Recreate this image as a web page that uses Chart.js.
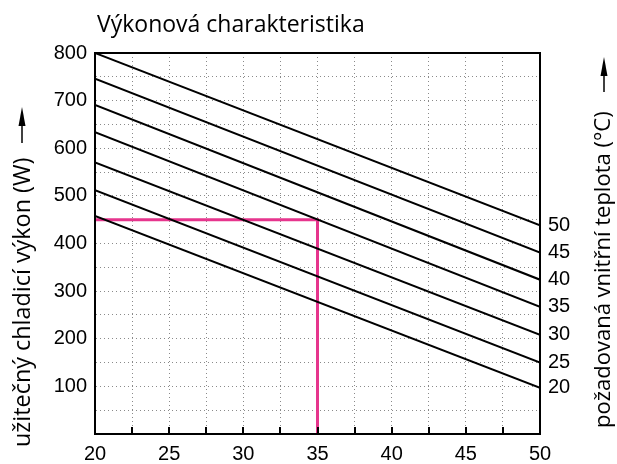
<!DOCTYPE html>
<html lang="cs">
<head>
<meta charset="UTF-8">
<title>Výkonová charakteristika</title>
<style>
    body { margin: 0; padding: 0; background: #fff; }
    .chart-container { position: relative; width: 617px; height: 464px; }
</style>
</head>
<body>
<div class="chart-container">
    <canvas id="vykonChart"></canvas>
</div>
<script src="https://cdn.jsdelivr.net/npm/chart.js"></script>
<script>
// venkovni teplota (x) - start a konec kazde primky
const outdoorTemps = [20, 50];
// pozadovana vnitrni teplota pro kazdou primku
const setpoints = [50, 45, 40, 35, 30, 25, 20];
// chladici vykon pri venkovni teplote 20 a 50 °C
const powerAt20 = [800, 746, 691, 634, 570, 512, 458];
const powerAt50 = [438, 381, 324, 267, 208, 150, 97];
// ruzova odectova cara
const markerX = [20, 35, 35];
const markerY = [450, 450, 0];

const xTicks = [20, 25, 30, 35, 40, 45, 50];
const yTicks = [100, 200, 300, 400, 500, 600, 700, 800];

const tickFont = { family: "'Liberation Sans', Arial, sans-serif", size: 20 };
const titleFamily = "'Open Sans', sans-serif";

const datasets = setpoints.map((t, i) => ({
    label: t + " °C",
    data: outdoorTemps.map((x, j) => ({ x: x, y: j === 0 ? powerAt20[i] : powerAt50[i] })),
    borderColor: "#000",
    borderWidth: 2,
    pointRadius: 0,
    tension: 0
}));

datasets.push({
    label: "odečet",
    data: markerX.map((x, i) => ({ x: x, y: markerY[i] })),
    borderColor: "#e6358d",
    borderWidth: 3,
    pointRadius: 0,
    tension: 0
});

// text rotated to read bottom-up, sized so it spans `len` pixels
function verticalText(ctx, text, x, yBottom, len) {
    ctx.save();
    ctx.font = "100px " + titleFamily;
    const size = 100 * len / ctx.measureText(text).width;
    ctx.font = size.toFixed(1) + "px " + titleFamily;
    ctx.translate(x, yBottom);
    ctx.rotate(-Math.PI / 2);
    ctx.fillText(text, 0, 0);
    ctx.restore();
}

function drawArrow(ctx, x, yFrom, yTip) {
    ctx.save();
    ctx.strokeStyle = "#000";
    ctx.lineWidth = 1.5;
    ctx.beginPath();
    ctx.moveTo(x, yFrom);
    ctx.lineTo(x, yTip + 15);
    ctx.stroke();
    ctx.beginPath();
    ctx.moveTo(x, yTip);
    ctx.lineTo(x - 3.5, yTip + 19);
    ctx.lineTo(x + 3.5, yTip + 19);
    ctx.closePath();
    ctx.fill();
    ctx.restore();
}

// ramecek, vnitrni tick znacky, titulky a sipky
const decorations = {
    id: "decorations",
    afterDatasetsDraw(chart) {
        const { ctx, chartArea: a, scales } = chart;
        ctx.save();
        ctx.strokeStyle = "#000";
        ctx.lineWidth = 2;
        // tick marks on the bottom axis, pointing inside
        scales.x.ticks.forEach((t) => {
            const px = Math.round(scales.x.getPixelForValue(t.value));
            ctx.beginPath();
            ctx.moveTo(px, a.bottom);
            ctx.lineTo(px, a.bottom - 7);
            ctx.stroke();
        });
        ctx.strokeRect(a.left, a.top, a.right - a.left, a.bottom - a.top);
        ctx.restore();
    },
    afterDraw(chart) {
        const { ctx } = chart;
        ctx.save();
        ctx.fillStyle = "#000";
        ctx.textBaseline = "alphabetic";
        ctx.font = "23px " + titleFamily;
        ctx.fillText("Výkonová charakteristika", 97, 32);

        verticalText(ctx, "užitečný chladicí výkon (W)", 30, 447, 290);
        drawArrow(ctx, 22, 143, 107);

        verticalText(ctx, "požadovaná vnitřní teplota (°C)", 610, 428, 316);
        drawArrow(ctx, 604, 92, 57);
        ctx.restore();
    }
};

new Chart(document.getElementById("vykonChart"), {
    type: "line",
    data: { datasets: datasets },
    options: {
        responsive: true,
        maintainAspectRatio: false,
        animation: false,
        layout: { padding: { top: 53, right: 0, bottom: 0, left: 0 } },
        plugins: {
            legend: { display: false },
            tooltip: { enabled: false }
        },
        scales: {
            x: {
                type: "linear",
                min: 20,
                max: 50,
                afterFit: (s) => { s.height = 30; },
                afterBuildTicks: (s) => {
                    const t = [];
                    for (let v = 20; v <= 50; v += 2.5) t.push({ value: v });
                    s.ticks = t;
                },
                ticks: {
                    autoSkip: false,
                    maxRotation: 0,
                    padding: 8,
                    color: "#000",
                    font: tickFont,
                    callback: (v) => (xTicks.includes(v) ? v : "")
                },
                grid: { color: "#8a8a8a", lineWidth: 1, drawTicks: false },
                border: { display: true, color: "#000", width: 2, dash: [1, 3] }
            },
            y: {
                type: "linear",
                position: "left",
                min: 0,
                max: 800,
                afterFit: (s) => { s.width = 95; },
                ticks: {
                    stepSize: 50,
                    autoSkip: false,
                    padding: 8,
                    color: "#000",
                    font: tickFont,
                    callback: (v) => (yTicks.includes(v) ? v : "")
                },
                grid: { color: "#8a8a8a", lineWidth: 1, drawTicks: false },
                border: { display: true, color: "#000", width: 2, dash: [1, 3] }
            },
            y2: {
                type: "linear",
                position: "right",
                min: 0,
                max: 800,
                afterFit: (s) => { s.width = 77; },
                afterBuildTicks: (s) => {
                    s.ticks = powerAt50.map((v) => ({ value: v }));
                },
                ticks: {
                    autoSkip: false,
                    padding: 8,
                    color: "#000",
                    font: tickFont,
                    callback: (v) => setpoints[powerAt50.indexOf(v)]
                },
                grid: { drawOnChartArea: false, drawTicks: false },
                border: { display: true, color: "#000", width: 2 }
            }
        }
    },
    plugins: [decorations]
});
</script>
</body>
</html>
